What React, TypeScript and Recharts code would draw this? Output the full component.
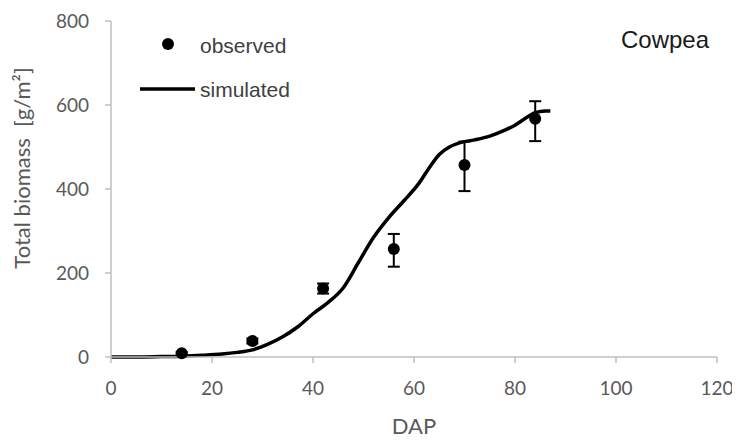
import React from 'react';
import {
  ComposedChart,
  Line,
  Scatter,
  ErrorBar,
  XAxis,
  YAxis,
} from 'recharts';

// observed biomass (mean with error bars)
const obsDap = [14, 28, 42, 56, 70, 84];
const obsBiomass = [9, 38, 163, 257, 457, 567];
const obsErrLow = [3, 6, 12, 42, 62, 53];
const obsErrHigh = [3, 6, 12, 36, 56, 42];

// simulated biomass curve
const simDap = [0, 5, 10, 14, 18, 22, 25, 28, 31, 34, 37, 40, 43, 46, 49, 52, 55, 58, 61, 63, 65, 67, 69, 72, 75, 78, 80, 82, 84, 86, 87];
const simBiomass = [0, 0, 1, 2, 4, 7, 11, 17, 30, 48, 72, 103, 130, 165, 225, 285, 332, 372, 414, 450, 482, 500, 510, 517, 526, 540, 552, 568, 582, 586, 586];

const xTicks = [0, 20, 40, 60, 80, 100, 120];
const yTicks = [0, 200, 400, 600, 800];

const observed = obsDap.map((d, i) => ({
  dap: d,
  biomass: obsBiomass[i],
  err: [obsErrLow[i], obsErrHigh[i]],
}));
const simulated = simDap.map((d, i) => ({ dap: d, biomass: simBiomass[i] }));

const axisFont = 'Lato, "Open Sans", sans-serif';
const arial = '"Liberation Sans", Arial, sans-serif';
const axisGray = '#bfbfbf';
const textGray = '#595959';

// legend drawn as an overlay so it doesn't eat into the plot area
const LegendBox = () => (
  <svg width={320} height={110} style={{ position: 'absolute', left: 0, top: 0 }}>
    <circle cx={168} cy={44} r={6} fill="#000" />
    <text x={200} y={52.5} fontFamily={arial} fontSize={21} fill="#404040">observed</text>
    <line x1={140} x2={195} y1={89} y2={89} stroke="#000" strokeWidth={3.5} />
    <text x={200} y={96.5} fontFamily={arial} fontSize={21} fill="#404040">simulated</text>
  </svg>
);

export default function App() {
  return (
    <div style={{ position: 'relative', width: 740, height: 443, margin: -8, background: '#fff' }}>
      <ComposedChart
        width={740}
        height={443}
        margin={{ top: 21, right: 23, bottom: 0, left: 0 }}
      >
        <XAxis
          type="number"
          dataKey="dap"
          domain={[0, 120]}
          ticks={xTicks}
          interval={0}
          height={86}
          stroke={axisGray}
          strokeWidth={1.5}
          tickSize={6}
          tickMargin={19}
          tick={{ fill: textGray, fontSize: 19, fontFamily: axisFont }}
          label={{
            content: (props: any) => {
              const vb = props.viewBox;
              return (
                <text
                  x={vb.x + vb.width / 2}
                  y={vb.y + 77}
                  textAnchor="middle"
                  fontFamily={axisFont}
                  fontSize={22}
                  fill={textGray}
                >
                  DAP
                </text>
              );
            },
          }}
        />
        <YAxis
          type="number"
          dataKey="biomass"
          domain={[0, 800]}
          ticks={yTicks}
          interval={0}
          width={111}
          stroke={axisGray}
          strokeWidth={1.5}
          tickSize={6}
          tickMargin={16}
          tick={{ fill: textGray, fontSize: 19, fontFamily: axisFont }}
          label={{
            content: (props: any) => {
              const vb = props.viewBox;
              const x = vb.x + 29.5;
              const y = vb.y + vb.height / 2 - 21;
              return (
                <text
                  x={x}
                  y={y}
                  transform={`rotate(-90 ${x} ${y})`}
                  textAnchor="middle"
                  fontFamily={axisFont}
                  fontSize={22}
                  fill={textGray}
                  style={{ whiteSpace: 'pre' }}
                >
                  {'Total biomass  [g/m²]'}
                </text>
              );
            },
          }}
        />
        <Line
          name="simulated"
          data={simulated}
          dataKey="biomass"
          type="monotone"
          stroke="#000"
          strokeWidth={3.5}
          dot={false}
          activeDot={false}
          isAnimationActive={false}
        />
        <Scatter
          name="observed"
          data={observed}
          dataKey="biomass"
          fill="#000"
          shape={(p: any) => <circle cx={p.cx} cy={p.cy} r={6} fill="#000" />}
          isAnimationActive={false}
        >
          <ErrorBar
            dataKey="err"
            direction="y"
            width={6}
            stroke="#000"
            strokeWidth={2}
            isAnimationActive={false}
          />
        </Scatter>
      </ComposedChart>
      <LegendBox />
      <div
        style={{
          position: 'absolute',
          left: 621,
          top: 28,
          fontFamily: arial,
          fontSize: 24,
          lineHeight: '24px',
          color: '#1a1a1a',
        }}
      >
        Cowpea
      </div>
    </div>
  );
}
